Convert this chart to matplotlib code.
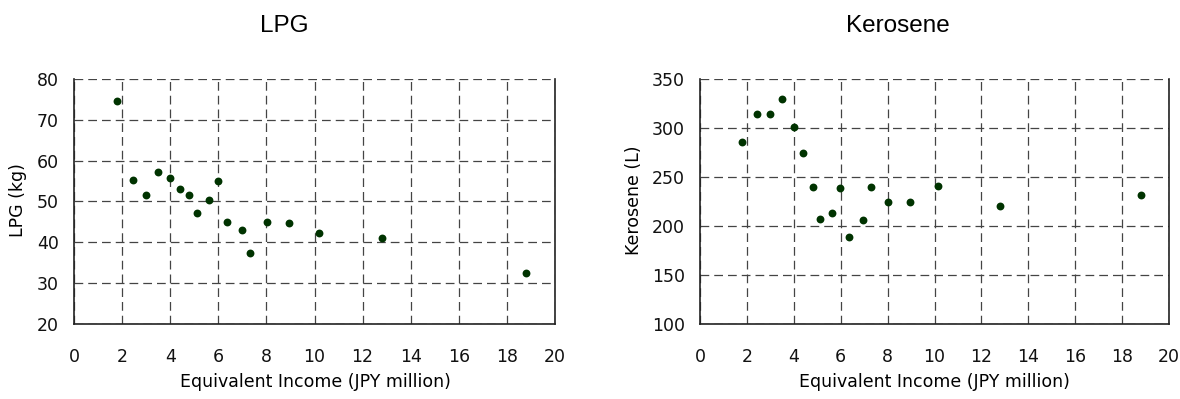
import matplotlib.pyplot as plt

# equivalent income (JPY million), shared by both panels
income = [1.80, 2.44, 3.00, 3.50, 4.01, 4.41, 4.80, 5.12, 5.62, 5.99,
          6.35, 6.97, 7.30, 8.01, 8.95, 10.17, 12.80, 18.80]
lpg = [74.5, 55.2, 51.6, 57.3, 55.7, 53.1, 51.6, 47.3, 50.4, 55.1,
       45.0, 42.9, 37.5, 45.0, 44.8, 42.4, 41.0, 32.4]
kerosene = [286, 314, 314, 330, 301, 274, 240, 207, 213, 239,
            189, 206, 240, 225, 225, 241, 220, 232]

x_ticks = list(range(0, 21, 2))
lpg_ticks = [20, 30, 40, 50, 60, 70, 80]
kero_ticks = [100, 150, 200, 250, 300, 350]

W, H = 1180, 399
fig = plt.figure(figsize=(W / 100, H / 100), dpi=100)

tick_font = 'DejaVu Sans'
dot_color = '#003300'
fs = 12.5

def make_panel(rect, y, yticks, title, ylabel, title_x, ylabel_x, xlabel_x):
    ax = fig.add_axes(rect)
    ax.scatter(income, y, s=32, color=dot_color, zorder=3, linewidths=0)
    ax.set_xlim(0, 20)
    ax.set_ylim(yticks[0], yticks[-1])
    ax.set_xticks(x_ticks)
    ax.set_yticks(yticks)
    ax.grid(True, linestyle=(0, (7, 4)), color='#444444', linewidth=0.9)
    ax.set_axisbelow(True)
    ax.spines['top'].set_visible(False)
    for s in ['left', 'right', 'bottom']:
        ax.spines[s].set_color('#222222')
        ax.spines[s].set_linewidth(1.2)
    ax.tick_params(direction='in', length=0, labelsize=fs, colors='#111111')
    ax.tick_params(axis='y', pad=11)
    ax.tick_params(axis='x', pad=17)
    for lab in ax.get_xticklabels() + ax.get_yticklabels():
        lab.set_family(tick_font)
    fig.text(title_x / W, 1 - 26 / H, title, ha='center', va='center',
             fontsize=17.5, family='Liberation Sans')
    fig.text(ylabel_x / W, 1 - 200 / H, ylabel, ha='center', va='center',
             rotation=90, fontsize=fs, family=tick_font)
    fig.text(xlabel_x / W, 1 - 382 / H, 'Equivalent Income (JPY million)',
             ha='center', va='center', fontsize=fs, family=tick_font)
    return ax

make_panel([74 / W, 75 / H, 481 / W, 245 / H], lpg, lpg_ticks,
           'LPG', 'LPG (kg)', 284, 18, 315)
make_panel([700 / W, 75 / H, 469 / W, 245 / H], kerosene, kero_ticks,
           'Kerosene', 'Kerosene (L)', 898, 634, 934)

fig.savefig('out.png', dpi=100)
